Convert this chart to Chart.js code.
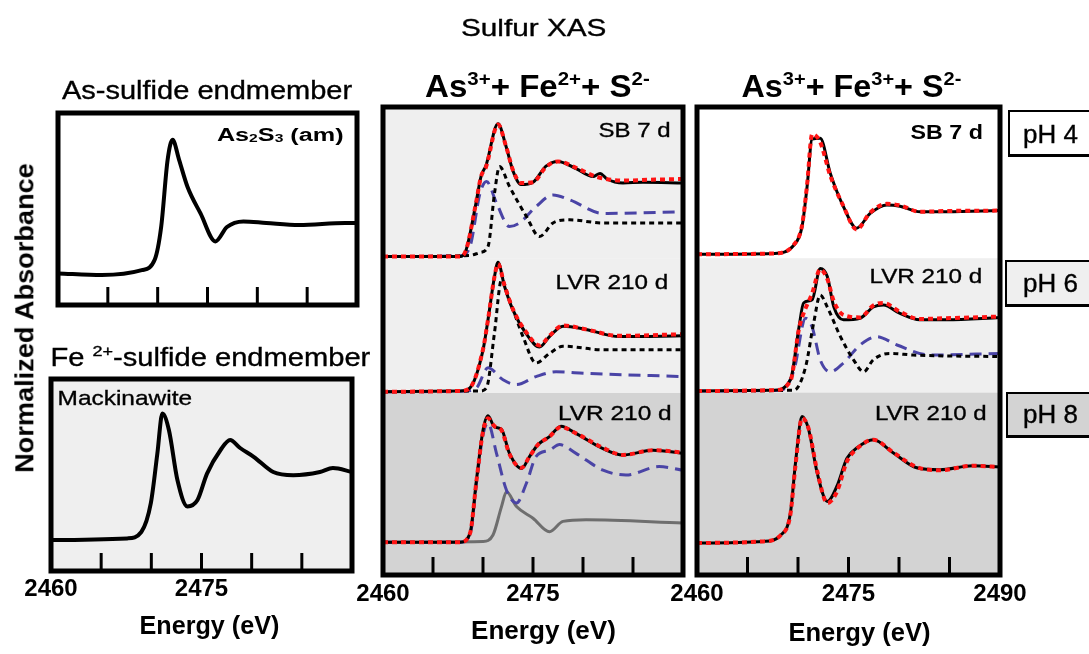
<!DOCTYPE html>
<html>
<head>
<meta charset="utf-8">
<script src="https://cdn.jsdelivr.net/npm/chart.js@4.4.0/dist/chart.umd.min.js"></script>
<style>
  html, body { margin: 0; padding: 0; background: #fff; }
  #fig { position: relative; width: 1089px; height: 654px; overflow: hidden;
         font-family: "Liberation Sans", Arial, sans-serif; }
  #fig canvas { position: absolute; left: 0; top: 0; }
  .lbl { position: absolute; white-space: nowrap; line-height: 1; color: #000; transform-origin: 50% 50%; }
  .lbl.reg { -webkit-text-stroke: 0.35px #000; }
  .lbl sup { font-size: 62%; vertical-align: 0.62em; line-height: 0; }
  .lbl sub { font-size: 62%; vertical-align: -0.1em; line-height: 0; }
  .phbox { position: absolute; box-sizing: border-box; border: 2px solid #000;
           border-right-width: 3px; border-bottom-width: 3px; }
</style>
</head>
<body>
<div id="fig"></div>
<script>
// S K-edge XANES, energy in eV, normalized absorbance (edge step ~1)

const tickEnergies = [2465, 2470, 2475, 2480, 2485];

// endmembers
const as2s3E = [2460, 2464.4, 2468.4, 2469.7, 2470.35, 2471.0, 2471.5, 2472.15, 2473.0, 2474.3, 2475.8, 2476.95, 2478.6, 2480.9, 2484.2, 2488.8, 2490];
const as2s3A = [0.02, 0, 0.06, 0.19, 0.60, 1.44, 1.69, 1.44, 1.10, 0.77, 0.42, 0.60, 0.67, 0.65, 0.625, 0.65, 0.65];

const mackE = [2460, 2467.6, 2469.0, 2469.95, 2470.6, 2471.1, 2471.75, 2472.6, 2473.6, 2474.6, 2475.55, 2476.9, 2477.85, 2478.85, 2480.2, 2482.15, 2484.15, 2486.8, 2488.1, 2490];
const mackA = [0, 0.02, 0.10, 0.46, 1.08, 1.58, 1.375, 0.75, 0.42, 0.50, 0.83, 1.125, 1.25, 1.15, 1.04, 0.85, 0.81, 0.85, 0.90, 0.85];

// As(III) + Fe(II) + S(-II), SB 7 d, pH 4
const fe2p4E     = [2460, 2467.7, 2468.3, 2469.3, 2469.8, 2470.3, 2471.5, 2472.3, 2473.0, 2473.8, 2475.0, 2476.3, 2477.5, 2479.3, 2481.0, 2481.7, 2482.4, 2484.0, 2486.0, 2490];
const fe2p4Data  = [0, 0, 0.08, 0.67, 1.00, 1.14, 1.66, 1.38, 1.07, 0.90, 0.93, 1.13, 1.19, 1.10, 1.00, 1.04, 0.97, 0.92, 0.93, 0.92];
const fe2p4FitE  = [2460, 2467.7, 2468.3, 2469.3, 2469.8, 2470.3, 2471.5, 2472.3, 2473.0, 2473.8, 2475.0, 2476.3, 2477.5, 2479.3, 2481.3, 2484.0, 2486.5, 2490];
const fe2p4Fit   = [0, 0, 0.08, 0.67, 1.00, 1.12, 1.65, 1.38, 1.08, 0.92, 0.93, 1.12, 1.19, 1.11, 1.00, 0.95, 0.96, 0.97];
const fe2p4MackE = [2460, 2467.7, 2468.7, 2469.7, 2470.35, 2471.35, 2472.65, 2473.65, 2475.3, 2477.0, 2478.65, 2482.0, 2490];
const fe2p4Mack  = [0, 0.01, 0.125, 0.79, 0.94, 0.67, 0.375, 0.42, 0.625, 0.77, 0.71, 0.54, 0.56];
const fe2p4AsE   = [2460, 2468.7, 2469.7, 2470.5, 2471.15, 2471.65, 2472.65, 2474.35, 2475.65, 2477.0, 2478.65, 2482.0, 2490];
const fe2p4As    = [0, 0.015, 0.05, 0.125, 0.79, 1.125, 0.875, 0.50, 0.25, 0.42, 0.46, 0.42, 0.42];

// As(III) + Fe(II) + S(-II), LVR 210 d, pH 6
const fe2p6E     = [2460, 2467.7, 2468.7, 2470.0, 2470.5, 2471.15, 2471.5, 2472.15, 2473.0, 2474.35, 2475.65, 2476.65, 2478.0, 2480.3, 2483.6, 2490];
const fe2p6Data  = [0, 0.01, 0.05, 0.52, 0.90, 1.44, 1.62, 1.32, 1.02, 0.72, 0.56, 0.69, 0.82, 0.78, 0.69, 0.70];
const fe2p6Fit   = [0, 0.01, 0.05, 0.53, 0.90, 1.44, 1.60, 1.33, 1.03, 0.74, 0.58, 0.70, 0.83, 0.78, 0.70, 0.72];
const fe2p6AsE   = [2460, 2469.7, 2470.35, 2471.15, 2471.85, 2472.65, 2474.0, 2475.3, 2476.65, 2478.0, 2482.0, 2490];
const fe2p6As    = [0, 0.01, 0.05, 0.74, 1.40, 1.15, 0.69, 0.36, 0.48, 0.57, 0.525, 0.525];
const fe2p6MackE = [2460, 2468.2, 2469.35, 2470.5, 2472.0, 2473.35, 2475.3, 2477.3, 2480.3, 2490];
const fe2p6Mack  = [0, 0.01, 0.05, 0.30, 0.15, 0.09, 0.19, 0.25, 0.23, 0.19];

// As(III) + Fe(II) + S(-II), LVR 210 d, pH 8
const fe2p8E     = [2460, 2467.7, 2468.7, 2469.35, 2470.0, 2470.5, 2471.15, 2471.85, 2472.65, 2473.85, 2474.65, 2475.5, 2476.65, 2477.8, 2479.3, 2482.0, 2484.0, 2487.0, 2490];
const fe2p8Data  = [0, 0, 0.11, 0.78, 1.40, 1.58, 1.44, 1.41, 1.11, 0.92, 1.07, 1.22, 1.32, 1.45, 1.36, 1.17, 1.09, 1.15, 1.11];
const fe2p8Fit   = [0, 0, 0.11, 0.77, 1.38, 1.55, 1.45, 1.40, 1.10, 0.93, 1.07, 1.22, 1.32, 1.44, 1.36, 1.18, 1.09, 1.15, 1.12];
const fe2p8MackE = [2460, 2467.7, 2468.7, 2469.35, 2470.0, 2470.5, 2471.35, 2472.35, 2473.35, 2474.35, 2475.3, 2476.65, 2477.65, 2479.3, 2482.0, 2484.3, 2487.6, 2490];
const fe2p8Mack  = [0, 0, 0.09, 0.75, 1.34, 1.49, 1.11, 0.65, 0.49, 0.74, 1.07, 1.15, 1.22, 1.11, 0.90, 0.84, 0.945, 0.90];
const fe2p8AsE   = [2460, 2470.0, 2471.0, 2471.85, 2472.35, 2473.35, 2475.0, 2476.65, 2478.0, 2480.3, 2490];
const fe2p8As    = [0, 0.01, 0.09, 0.445, 0.63, 0.445, 0.30, 0.13, 0.26, 0.28, 0.24];

// As(III) + Fe(III) + S(-II), SB 7 d, pH 4
const fe3p4E     = [2460, 2467.6, 2469.6, 2470.4, 2470.9, 2471.4, 2472.2, 2473.2, 2474.5, 2475.8, 2477.15, 2478.8, 2480.1, 2482.1, 2484.7, 2490];
const fe3p4Data  = [0, 0.01, 0.115, 0.345, 0.845, 1.44, 1.45, 1.01, 0.595, 0.325, 0.51, 0.615, 0.60, 0.53, 0.53, 0.545];
const fe3p4Fit   = [0, 0.01, 0.12, 0.36, 0.87, 1.50, 1.40, 0.98, 0.60, 0.31, 0.52, 0.63, 0.61, 0.53, 0.54, 0.545];

// As(III) + Fe(III) + S(-II), LVR 210 d, pH 6
const fe3p6E     = [2460, 2467.6, 2469.25, 2470.1, 2470.55, 2471.4, 2472.2, 2472.9, 2473.55, 2474.5, 2476.15, 2477.45, 2478.45, 2480.1, 2482.05, 2484.7, 2490];
const fe3p6Data  = [0, 0.01, 0.14, 0.80, 1.10, 1.14, 1.53, 1.43, 1.05, 0.89, 0.91, 1.05, 1.075, 0.97, 0.89, 0.89, 0.92];
const fe3p6Fit   = [0, 0.01, 0.125, 0.78, 0.97, 1.22, 1.52, 1.40, 1.12, 0.95, 0.92, 1.07, 1.10, 0.99, 0.90, 0.91, 0.93];
const fe3p6AsE   = [2460, 2469.6, 2470.75, 2471.55, 2472.2, 2472.9, 2474.2, 2475.5, 2476.5, 2477.45, 2479.1, 2481.4, 2490];
const fe3p6As    = [0, 0.01, 0.30, 0.85, 1.20, 1.05, 0.68, 0.39, 0.24, 0.39, 0.47, 0.45, 0.43];
const fe3p6MackE = [2460, 2468.3, 2469.6, 2470.75, 2471.4, 2472.2, 2473.2, 2474.5, 2476.15, 2477.8, 2479.8, 2483.05, 2490];
const fe3p6Mack  = [0, 0.01, 0.26, 0.91, 0.80, 0.39, 0.24, 0.35, 0.575, 0.68, 0.575, 0.45, 0.47];

// As(III) + Fe(III) + S(-II), LVR 210 d, pH 8
const fe3p8E     = [2460, 2466.6, 2468.3, 2469.25, 2469.75, 2470.4, 2471.05, 2471.9, 2472.9, 2473.85, 2474.85, 2475.85, 2477.45, 2479.45, 2481.75, 2484.05, 2487.3, 2490];
const fe3p8Data  = [0, 0.02, 0.10, 0.375, 1.00, 1.58, 1.42, 0.875, 0.52, 0.71, 1.06, 1.19, 1.29, 1.125, 0.94, 0.915, 0.965, 0.95];
const fe3p8Fit   = [0, 0.02, 0.10, 0.36, 0.97, 1.56, 1.43, 0.90, 0.50, 0.64, 1.02, 1.18, 1.29, 1.13, 0.95, 0.91, 0.965, 0.95];

// ------------------------------------------------------------
const W = 1089, H = 654;
const fig = document.getElementById('fig');
const FONT = '"Liberation Sans", Arial, sans-serif';
const LIGHT = '#efefef', DARK = '#d3d3d3';

const STYLE = {
  data:  { borderColor: '#000000', borderWidth: 3 },
  fit:   { borderColor: '#ff1414', borderWidth: 4, borderDash: [5, 4] },
  as:    { borderColor: '#000000', borderWidth: 3, borderDash: [5, 4] },
  mack:  { borderColor: '#4a44a6', borderWidth: 3, borderDash: [12, 7] },
  ref:   { borderColor: '#6e6e6e', borderWidth: 3 },
  end:   { borderColor: '#000000', borderWidth: 4 },
};
const ORDER = { fit: 0, data: 1, as: 2, mack: 3, ref: 4, end: 0 };

function curve(E, A, kind, off) {
  return {
    data: E.map((e, i) => ({ x: e, y: A[i] + (off || 0) })),
    ...STYLE[kind],
    order: ORDER[kind],
    fill: false,
    pointRadius: 0,
    cubicInterpolationMode: 'monotone',
  };
}

// band fills, inward ticks, frame and energy labels
const panelDecor = {
  id: 'panelDecor',
  beforeDatasetsDraw(chart, args, opts) {
    const { ctx, chartArea: a, scales: { y } } = chart;
    ctx.save();
    (opts.bands || []).forEach(b => {
      const top = Math.max(a.top, y.getPixelForValue(b.hi));
      const bot = Math.min(a.bottom, y.getPixelForValue(b.lo));
      ctx.fillStyle = b.color;
      ctx.fillRect(a.left, top, a.right - a.left, bot - top);
    });
    ctx.restore();
  },
  afterDatasetsDraw(chart, args, opts) {
    const { ctx, chartArea: a, scales: { x } } = chart;
    ctx.save();
    ctx.strokeStyle = '#000';
    ctx.lineWidth = 3;
    tickEnergies.forEach(v => {
      const px = x.getPixelForValue(v);
      ctx.beginPath();
      ctx.moveTo(px, a.bottom);
      ctx.lineTo(px, a.bottom - 18);
      ctx.stroke();
    });
    ctx.lineWidth = 5;
    ctx.strokeRect(a.left, a.top, a.right - a.left, a.bottom - a.top);
    ctx.fillStyle = '#000';
    ctx.font = 'bold 24px ' + FONT;
    ctx.textAlign = 'center';
    ctx.textBaseline = 'alphabetic';
    (opts.labels || []).forEach(v => ctx.fillText(String(v), x.getPixelForValue(v), opts.labelY));
    ctx.restore();
  }
};

function makePanel(area, yMin, yMax, datasets, decor) {
  const cv = document.createElement('canvas');
  cv.width = W; cv.height = H;
  fig.appendChild(cv);
  return new Chart(cv, {
    type: 'line',
    data: { datasets },
    options: {
      responsive: false,
      animation: false,
      events: [],
      layout: { padding: { left: area.l, top: area.t, right: W - area.r, bottom: H - area.b } },
      scales: {
        x: { type: 'linear', min: 2460, max: 2490, display: false },
        y: { type: 'linear', min: yMin, max: yMax, display: false },
      },
      plugins: { legend: { display: false }, tooltip: { enabled: false }, panelDecor: decor },
    },
    plugins: [panelDecor],
  });
}

// left column: endmembers
makePanel({ l: 58, r: 357, t: 113, b: 305 }, -0.375, 2.025,
  [curve(as2s3E, as2s3A, 'end')],
  { bands: [], labels: [] });

makePanel({ l: 51, r: 352, t: 379, b: 571 }, -0.3875, 2.0125,
  [curve(mackE, mackA, 'end')],
  { bands: [{ lo: -1, hi: 3, color: LIGHT }], labels: [2460, 2475], labelY: 596 });

// middle column: As3+ + Fe2+ + S2-
const fe2Base = [3.98, 2.29, 0.41];
makePanel({ l: 383, r: 683, t: 107, b: 575 }, 0, 5.85, [
  curve(fe2p4FitE, fe2p4Fit, 'fit', fe2Base[0]),
  curve(fe2p4E, fe2p4Data, 'data', fe2Base[0]),
  curve(fe2p4AsE, fe2p4As, 'as', fe2Base[0]),
  curve(fe2p4MackE, fe2p4Mack, 'mack', fe2Base[0]),
  curve(fe2p6E, fe2p6Fit, 'fit', fe2Base[1]),
  curve(fe2p6E, fe2p6Data, 'data', fe2Base[1]),
  curve(fe2p6AsE, fe2p6As, 'as', fe2Base[1]),
  curve(fe2p6MackE, fe2p6Mack, 'mack', fe2Base[1]),
  curve(fe2p8E, fe2p8Fit, 'fit', fe2Base[2]),
  curve(fe2p8E, fe2p8Data, 'data', fe2Base[2]),
  curve(fe2p8MackE, fe2p8Mack, 'mack', fe2Base[2]),
  curve(fe2p8AsE, fe2p8As, 'ref', fe2Base[2]),
], {
  bands: [{ lo: 3.96, hi: 6, color: LIGHT }, { lo: 2.275, hi: 3.96, color: LIGHT }, { lo: 0, hi: 2.275, color: DARK }],
  labels: [2460, 2475], labelY: 601,
});

// right column: As3+ + Fe3+ + S2-
const fe3Base = [4.01, 2.30, 0.40];
makePanel({ l: 697, r: 1000, t: 107, b: 575 }, 0, 5.85, [
  curve(fe3p4E, fe3p4Fit, 'fit', fe3Base[0]),
  curve(fe3p4E, fe3p4Data, 'data', fe3Base[0]),
  curve(fe3p6E, fe3p6Fit, 'fit', fe3Base[1]),
  curve(fe3p6E, fe3p6Data, 'data', fe3Base[1]),
  curve(fe3p6AsE, fe3p6As, 'as', fe3Base[1]),
  curve(fe3p6MackE, fe3p6Mack, 'mack', fe3Base[1]),
  curve(fe3p8E, fe3p8Fit, 'fit', fe3Base[2]),
  curve(fe3p8E, fe3p8Data, 'data', fe3Base[2]),
], {
  bands: [{ lo: 3.96, hi: 6, color: '#ffffff' }, { lo: 2.28, hi: 3.96, color: LIGHT }, { lo: 0, hi: 2.28, color: DARK }],
  labels: [2460, 2475, 2490], labelY: 601,
});

// pH boxes
[[1008, 110, 47, '#ffffff'], [1005, 260, 47, LIGHT], [1006, 392, 46, DARK]].forEach(([x, y, h, c]) => {
  const b = document.createElement('div');
  b.className = 'phbox';
  Object.assign(b.style, { left: x + 'px', top: y + 'px', width: '100px', height: h + 'px', background: c });
  fig.appendChild(b);
});

// text: centre (cx, cy), font size, target width
function label(html, cx, cy, size, width, bold, rotate) {
  const el = document.createElement('div');
  el.className = 'lbl' + (bold ? '' : ' reg');
  el.innerHTML = html;
  el.style.fontSize = size + 'px';
  el.style.fontWeight = bold ? 'bold' : 'normal';
  fig.appendChild(el);
  const w = el.offsetWidth, h = el.offsetHeight;
  const sx = width ? width / w : 1;
  el.style.left = (cx - w / 2) + 'px';
  el.style.top = (cy - h / 2) + 'px';
  el.style.transform = (rotate ? 'rotate(-90deg) ' : '') + 'scaleX(' + sx.toFixed(3) + ')';
}

label('Sulfur XAS', 533, 28, 24, 145, false);
label('As-sulfide endmember', 207, 90, 25, 290, false);
label('Fe <sup>2+</sup>-sulfide endmember', 210, 357, 25, 320, false);
label('As<sup>3+</sup>+ Fe<sup>2+</sup>+ S<sup>2-</sup>', 537, 86, 31, 225, true);
label('As<sup>3+</sup>+ Fe<sup>3+</sup>+ S<sup>2-</sup>', 851, 86, 31, 220, true);

label('As<sub>2</sub>S<sub>3</sub> (am)', 280, 135, 18, 126, true);
label('Mackinawite', 125, 397, 21, 135, false);

label('SB 7 d', 634, 129, 21, 72, false);
label('LVR 210 d', 612, 281, 21, 113, false);
label('LVR 210 d', 615, 412, 21, 114, false);
label('SB 7 d', 946, 131, 21, 72, true);
label('LVR 210 d', 926, 275, 21, 113, false);
label('LVR 210 d', 931, 412, 21, 112, false);

label('pH 4', 1050, 134, 25, 55, false);
label('pH 6', 1050, 283, 25, 55, false);
label('pH 8', 1050, 414, 25, 55, false);

label('Energy (eV)', 209, 625, 25, 140, true);
label('Energy (eV)', 543, 630, 25, 145, true);
label('Energy (eV)', 859, 632, 25, 142, true);

label('Normalized Absorbance', 24, 318, 26, 310, true, true);
</script>
</body>
</html>
